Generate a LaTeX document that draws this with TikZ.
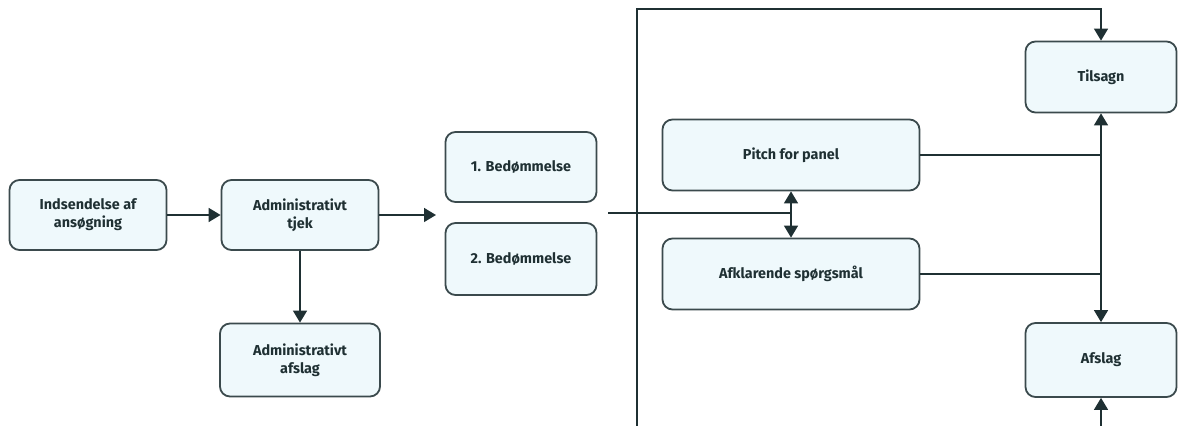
\documentclass[tikz,border=0pt]{standalone}
\usepackage{fontspec}
\setmainfont{Fira Sans}
\usetikzlibrary{arrows.meta}
\definecolor{boxfill}{HTML}{EFF9FC}
\definecolor{boxline}{HTML}{3B4A4D}
\definecolor{ink}{HTML}{1F3033}
\tikzset{
    procbox/.style={draw=boxline,line width=0.9pt,fill=boxfill,rounded corners=5pt,
        align=center,text=ink,font=\bfseries\fontsize{7.2}{9}\selectfont,inner sep=2pt},
    link/.style={draw=ink,line width=0.75pt},
    arr/.style={link,-{Triangle[width=7pt,length=6pt]}},
    arrs/.style={link,{Triangle[width=7pt,length=6pt]}-{Triangle[width=7pt,length=6pt]}},
}
\newcommand{\procbox}[5] {
    \node[procbox,minimum width=#3,minimum height=#4] (#1) at (#2) {#5};
}

\begin{document}
\begin{tikzpicture}[x=0.5pt,y=-0.5pt]
        \useasboundingbox (0,0) rectangle (1181,426);
        \procbox{ind}{88,215}{78.5pt}{35pt}{Indsendelse af\\ansøgning};
        \procbox{tjek}{300,215}{78.5pt}{35pt}{Administrativt\\tjek};
        \procbox{admafs}{300,360}{80pt}{36.5pt}{Administrativt\\afslag};
        \procbox{bed1}{521,167}{75.5pt}{35pt}{1. Bedømmelse};
        \procbox{bed2}{521,259}{75.5pt}{36pt}{2. Bedømmelse};
        \procbox{pitch}{791,155}{128.5pt}{35.5pt}{Pitch for panel};
        \procbox{afkl}{791,274}{128.5pt}{35.5pt}{Afklarende spørgsmål};
        \procbox{tils}{1101,77}{75.5pt}{35.5pt}{Tilsagn};
        \procbox{afsl}{1101,360}{75.5pt}{37pt}{Afslag};
        \coordinate (bedin) at (436,215);
        \coordinate (bedout) at (608,213);
        \coordinate (top) at (637,9);
        \coordinate (bot) at (637,426);
        \coordinate (afin) at (1101,426);
        \draw[arr] (ind) -- (tjek);
        \draw[arr] (tjek) -- (bedin);
        \draw[arr] (tjek) -- (admafs);
        \draw[link] (bedout) -- (bedout -| pitch.south);
        \draw[arrs] (pitch) -- (afkl);
        \draw[arr] (bot) -- (top) -| (tils);
        \draw[link] (pitch.east) -- (pitch.east -| tils.south);
        \draw[link] (afkl.east) -- (afkl.east -| tils.south);
        \draw[arrs] (tils) -- (afsl);
        \draw[arr] (afin) -- (afsl);
    \end{tikzpicture}
\end{document}
